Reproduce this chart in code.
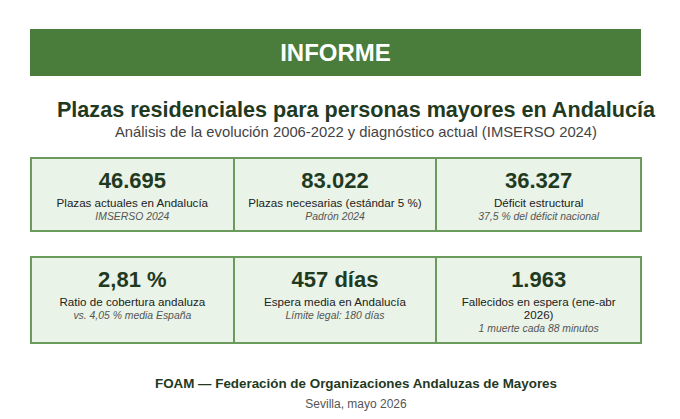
<!DOCTYPE html>
<html lang="es">
<head>
    <meta charset="UTF-8">
    <meta name="viewport" content="width=device-width, initial-scale=1.0">
    <script src="https://cdn.jsdelivr.net/npm/chart.js"></script>
    <style>
        body {
            font-family: 'Liberation Sans', Arial, sans-serif;
            background: #ffffff;
            margin: 0;
            width: 680px;
            height: 419px;
            position: relative;
            overflow: hidden;
        }
        .banner {
            position: absolute;
            left: 30px;
            top: 29px;
            width: 611px;
            height: 47px;
            background: #4a7c3b;
            color: #fff;
            font-weight: bold;
            font-size: 24px;
            line-height: 47px;
            text-align: center;
        }
        .title {
            position: absolute;
            left: 30px;
            width: 652px;
            top: 99px;
            font-size: 21.6px;
            line-height: 21px;
            font-weight: bold;
            color: #1f3a1f;
            text-align: center;
        }
        .subtitle {
            position: absolute;
            left: 30px;
            width: 652px;
            top: 125px;
            font-size: 14.8px;
            line-height: 15px;
            color: #444;
            text-align: center;
        }
        .row {
            position: absolute;
            left: 30px;
            width: 612px;
            box-sizing: border-box;
            border: 2px solid #6b9a5d;
            background: #e9f3e7;
            display: grid;
            grid-template-columns: 1fr 1fr 1fr;
        }
        .card {
            border-right: 2px solid #6b9a5d;
            text-align: center;
            padding: 10px 10px 0 10px;
        }
        .card:last-child { border-right: none; }
        .value {
            font-size: 22px;
            line-height: 22px;
            font-weight: bold;
            color: #1f3a1f;
            margin-top: 1px;
        }
        .label {
            font-size: 11.6px;
            line-height: 13px;
            color: #222;
            margin-top: 4px;
        }
        .note {
            font-size: 10.4px;
            line-height: 13px;
            font-style: italic;
            color: #555;
            margin-top: 1px;
        }
        .footer1 {
            position: absolute;
            left: 30px;
            width: 652px;
            top: 377px;
            font-size: 13.4px;
            line-height: 14px;
            font-weight: bold;
            color: #1f3a1f;
            text-align: center;
        }
        .footer2 {
            position: absolute;
            left: 30px;
            width: 652px;
            top: 398px;
            font-size: 12px;
            line-height: 12px;
            color: #555;
            text-align: center;
        }
    </style>
</head>
<body>
    <div class="banner">INFORME</div>
    <div class="title">Plazas residenciales para personas mayores en Andalucía</div>
    <div class="subtitle">Análisis de la evolución 2006-2022 y diagnóstico actual (IMSERSO 2024)</div>
    <div class="row" id="row1" style="top:157px;height:75px;"></div>
    <div class="row" id="row2" style="top:256px;height:88px;"></div>
    <div class="footer1">FOAM — Federación de Organizaciones Andaluzas de Mayores</div>
    <div class="footer2">Sevilla, mayo 2026</div>
    <script>
        // key figures, one entry per card
        const cardValues = ['46.695', '83.022', '36.327', '2,81 %', '457 días', '1.963'];
        const cardLabels = [
            'Plazas actuales en Andalucía',
            'Plazas necesarias (estándar 5 %)',
            'Déficit estructural',
            'Ratio de cobertura andaluza',
            'Espera media en Andalucía',
            'Fallecidos en espera (ene-abr 2026)'
        ];
        const cardNotes = [
            'IMSERSO 2024',
            'Padrón 2024',
            '37,5 % del déficit nacional',
            'vs. 4,05 % media España',
            'Límite legal: 180 días',
            '1 muerte cada 88 minutos'
        ];

        function addCard(row, i) {
            const card = document.createElement('div');
            card.className = 'card';
            const v = document.createElement('div');
            v.className = 'value';
            v.textContent = cardValues[i];
            const l = document.createElement('div');
            l.className = 'label';
            l.textContent = cardLabels[i];
            const n = document.createElement('div');
            n.className = 'note';
            n.textContent = cardNotes[i];
            card.appendChild(v);
            card.appendChild(l);
            card.appendChild(n);
            row.appendChild(card);
        }

        const row1 = document.getElementById('row1');
        const row2 = document.getElementById('row2');
        for (let i = 0; i < 3; i++) addCard(row1, i);
        for (let i = 3; i < 6; i++) addCard(row2, i);
    </script>
</body>
</html>
